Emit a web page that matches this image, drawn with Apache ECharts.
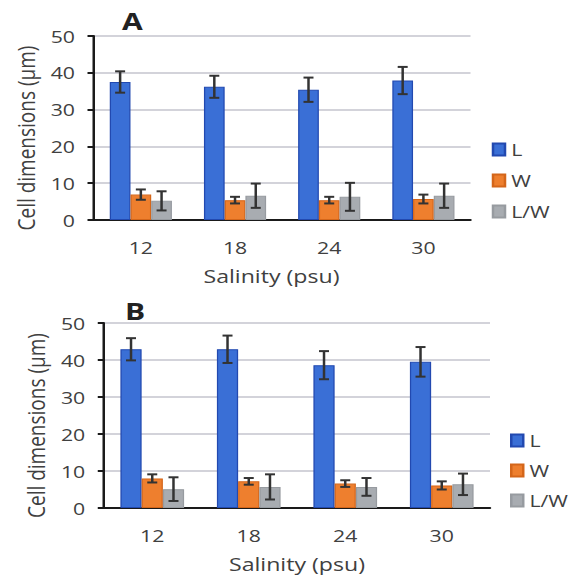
<!DOCTYPE html>
<html>
<head>
<meta charset="utf-8">
<script src="https://cdn.jsdelivr.net/npm/echarts@6/dist/echarts.min.js"></script>
<style>
html,body{margin:0;padding:0;background:#fff;overflow:hidden;width:578px;height:575px}
#c{width:462.4px;height:575px;transform:scaleX(1.25);transform-origin:0 0}
</style>
</head>
<body>
<div id="c"></div>
<script>
const categories = ['12', '18', '24', '30'];
const seriesNames = ['L', 'W', 'L/W'];
const yTicks = [0, 10, 20, 30, 40, 50];

// Panel A means and error (SD)
const aL = [37.5, 36.2, 35.4, 37.9];
const aLerr = [2.9, 3.0, 3.3, 3.7];
const aW = [6.9, 5.4, 5.4, 5.7];
const aWerr = [1.4, 0.9, 0.9, 1.2];
const aLW = [5.2, 6.6, 6.3, 6.6];
const aLWerr = [2.6, 3.3, 3.8, 3.3];

// Panel B means and error (SD)
const bL = [42.9, 42.9, 38.6, 39.5];
const bLerr = [3.0, 3.7, 3.8, 4.0];
const bW = [8.0, 7.2, 6.6, 6.1];
const bWerr = [1.1, 0.9, 0.9, 1.1];
const bLW = [5.1, 5.7, 5.7, 6.4];
const bLWerr = [3.2, 3.4, 2.4, 2.9];

const colors = ['#3a6fd6', '#ee7f2e', '#a8acb1'];
const borders = ['#2249b0', '#d4661a', '#979ba0'];
const FONT = '"Open Sans", "Noto Sans", sans-serif';
const TXT = '#404040';
const BAR_FRAC = 0.22;

function makeAxes(idx, xNamePad) {
  const x = {
    type: 'category', gridIndex: idx, data: categories, boundaryGap: true,
    axisLine: { lineStyle: { color: '#1a1a1a', width: 2 } },
    axisTick: { alignWithLabel: true, length: 5, lineStyle: { color: '#1a1a1a', width: 2 } },
    axisLabel: { fontSize: 17, color: TXT, fontFamily: FONT, margin: 19 },
    name: 'Salinity (psu)', nameLocation: 'middle', nameGap: 46,
    nameTextStyle: { fontSize: 18.5, color: TXT, fontFamily: FONT, padding: xNamePad }
  };
  const y = {
    type: 'value', gridIndex: idx, min: yTicks[0], max: yTicks[yTicks.length - 1], interval: 10,
    axisLine: { show: true, lineStyle: { color: '#1a1a1a', width: 2 } },
    axisTick: { show: true, length: 5, lineStyle: { color: '#1a1a1a', width: 2 } },
    axisLabel: { fontSize: 17, color: TXT, fontFamily: FONT, margin: 15 },
    splitLine: { lineStyle: { color: '#d3d3da', width: 2 } },
    name: 'Cell dimensions (µm)', nameLocation: 'middle', nameGap: 45,
    nameTextStyle: { fontSize: 19, color: TXT, fontFamily: FONT, padding: [0, 20, 0, 0] }
  };
  return { x, y };
}

function barSeries(idx, name, k, vals) {
  return {
    type: 'bar', name, xAxisIndex: idx, yAxisIndex: idx, data: vals,
    barGap: '0%', barCategoryGap: '34%',
    itemStyle: { color: colors[k], borderColor: borders[k], borderWidth: 1 },
    z: 2
  };
}

function errSeries(idx, name, k, vals, errs) {
  const off = (k - 1) * BAR_FRAC;
  return {
    type: 'custom', name, xAxisIndex: idx, yAxisIndex: idx, z: 5,
    data: vals.map((v, i) => [i, v, errs[i]]),
    encode: { x: 0, y: 1 },
    renderItem: function (params, api) {
      const ci = api.value(0), v = api.value(1), e = api.value(2);
      const band = api.size([1, 0])[0];
      const t = api.coord([ci, v + e]);
      const b = api.coord([ci, v - e]);
      const cx = t[0] + off * band;
      const h = 4;
      const st = { stroke: '#333', lineWidth: 2 };
      return {
        type: 'group',
        children: [
          { type: 'line', shape: { x1: cx, y1: t[1], x2: cx, y2: b[1] }, style: st },
          { type: 'line', shape: { x1: cx - h, y1: t[1], x2: cx + h, y2: t[1] }, style: st },
          { type: 'line', shape: { x1: cx - h, y1: b[1], x2: cx + h, y2: b[1] }, style: st }
        ]
      };
    }
  };
}

const A = makeAxes(0, [0, 17, 0, 0]);
const B = makeAxes(1, [0, 0, 0, 0]);

const legendCommon = {
  orient: 'vertical', icon: 'rect', itemWidth: 9.6, itemHeight: 12,
  data: seriesNames, selectedMode: false,
  textStyle: { fontSize: 17, color: TXT, fontFamily: FONT }
};

const option = {
  backgroundColor: '#ffffff',
  animation: false,
  title: [
    { text: 'A', left: 92.6, top: 4, textStyle: { fontSize: 24, fontWeight: 'bold', color: '#222', fontFamily: FONT } },
    { text: 'B', left: 95, top: 294, textStyle: { fontSize: 24, fontWeight: 'bold', color: '#222', fontFamily: FONT } }
  ],
  legend: [
    Object.assign({ left: 388.4, top: 136, itemGap: 14 }, legendCommon),
    Object.assign({ left: 403, top: 427, itemGap: 13 }, legendCommon)
  ],
  grid: [
    { left: 75, top: 36, right: 85.6, bottom: 355 },
    { left: 83.2, top: 323, right: 70, bottom: 67 }
  ],
  xAxis: [A.x, B.x],
  yAxis: [A.y, B.y],
  series: [
    barSeries(0, 'L', 0, aL), barSeries(0, 'W', 1, aW), barSeries(0, 'L/W', 2, aLW),
    errSeries(0, 'L', 0, aL, aLerr), errSeries(0, 'W', 1, aW, aWerr), errSeries(0, 'L/W', 2, aLW, aLWerr),
    barSeries(1, 'L', 0, bL), barSeries(1, 'W', 1, bW), barSeries(1, 'L/W', 2, bLW),
    errSeries(1, 'L', 0, bL, bLerr), errSeries(1, 'W', 1, bW, bWerr), errSeries(1, 'L/W', 2, bLW, bLWerr)
  ]
};

const chart = echarts.init(document.getElementById('c'), null, { renderer: 'svg' });
chart.setOption(option);
</script>
</body>
</html>
